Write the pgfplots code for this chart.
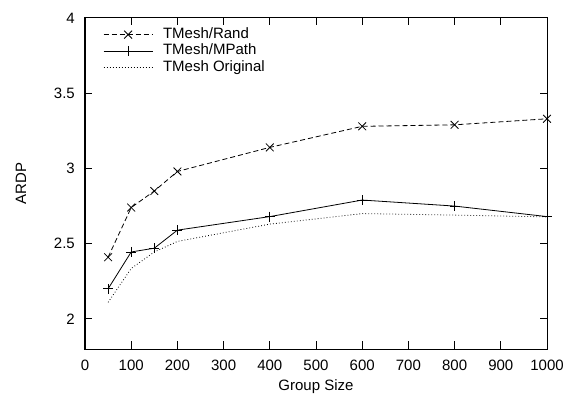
\documentclass[border=0pt]{standalone}
\usepackage{pgfplots}
\pgfplotsset{compat=1.18}
\usepackage{fontspec}
\setmainfont{Liberation Sans}
\usetikzlibrary{calc}

\begin{document}
\begin{tikzpicture}
\fontsize{15}{18}\selectfont
\begin{axis}[
  name=ax,
  scale only axis,
  width=462pt, height=331pt,
  xmin=0, xmax=1000, ymin=1.8, ymax=4,
  xtick={0,100,...,1000},
  ytick={2,2.5,3,3.5,4},
  tick pos=both,
  tick align=inside,
  major tick length=7.5pt,
  axis line style={line width=1pt},
  every tick/.style={black, line width=1pt},
  /pgf/number format/assume math mode=true,
  /pgf/number format/1000 sep={},
  ticklabel style={font=\fontsize{15}{18}\selectfont},
  xticklabel style={yshift=-5.5pt},
  yticklabel style={xshift=-5pt},
  xlabel={Group Size},
  ylabel={ARDP},
  label style={font=\fontsize{15}{18}\selectfont},
  xlabel style={at={(axis description cs:0.5,-0.115)}, anchor=center},
  ylabel style={at={(axis description cs:-0.1385,0.5)}, anchor=center},
  clip=false,
  legend cell align=left,
  legend style={draw=none, fill=none, at={(0.039,0.970)}, anchor=north west,
    font=\fontsize{15}{18}\selectfont, inner sep=0pt, row sep=3.5pt,
    nodes={inner sep=0pt, text height=10pt, text depth=3pt}},
  legend image code/.code={%
    \draw[mark repeat=2, mark phase=2, #1] plot coordinates {(0pt,0pt) (24.5pt,0pt) (49pt,0pt)};
    \path (59pt,0pt);},
]
\addplot[black, line width=0.8pt, dash pattern=on 5pt off 3pt,
  mark=x, mark size=5.5pt, mark options={solid, line width=0.8pt}]
  coordinates {(50,2.41) (100,2.74) (150,2.85) (200,2.98) (400,3.14) (600,3.28) (800,3.29) (1000,3.33)};
\addlegendentry{TMesh/Rand}
\addplot[black, line width=0.8pt,
  mark=+, mark size=5pt, mark options={solid, line width=0.8pt}]
  coordinates {(50,2.20) (100,2.445) (150,2.47) (200,2.59) (400,2.68) (600,2.79) (800,2.75) (1000,2.68)};
\addlegendentry{TMesh/MPath}
\addplot[black, line width=0.8pt, dash pattern=on 0.8pt off 2.2pt, mark=none]
  coordinates {(50,2.11) (100,2.335) (150,2.445) (200,2.515) (400,2.63) (600,2.70) (800,2.69) (1000,2.678)};
\addlegendentry{TMesh Original}
\end{axis}
\pgfresetboundingbox
\useasboundingbox ($(ax.south west)+(-85pt,-52pt)$) rectangle ($(ax.north east)+(25pt,18pt)$);
\end{tikzpicture}
\end{document}
